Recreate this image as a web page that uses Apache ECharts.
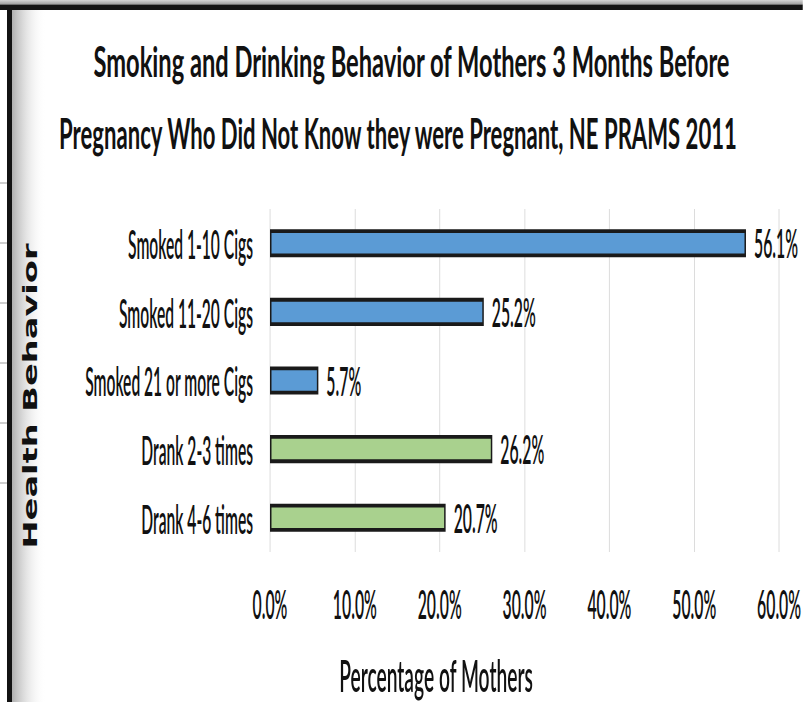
<!DOCTYPE html>
<html><head><meta charset="utf-8">
<script src="https://cdn.jsdelivr.net/npm/echarts@6/dist/echarts.min.js"></script>
<style>
html,body{margin:0;padding:0;overflow:hidden;background:#fff;}
#wrap{width:803px;height:702px;overflow:hidden;position:relative;background:#fff;}
#chart{position:absolute;left:0;top:0;transform-origin:0 0;}
</style></head><body>
<div id="wrap"><div id="chart"></div></div>
<script>
// ---- data ----
const titleLines = ['Smoking and Drinking Behavior of Mothers 3 Months Before',
                    'Pregnancy Who Did Not Know they were Pregnant, NE PRAMS 2011'];
const categories = ['Smoked 1-10 Cigs', 'Smoked 11-20 Cigs', 'Smoked 21 or more Cigs', 'Drank 2-3 times', 'Drank 4-6 times'];
const values = [56.1, 25.2, 5.7, 26.2, 20.7];
const barGroups = ['smoke', 'smoke', 'smoke', 'drink', 'drink'];
const xTickValues = [0, 10, 20, 30, 40, 50, 60];
const xAxisName = 'Percentage of Mothers';
const yAxisName = 'Health Behavior';

// ---- styling ----
const groupColors = { smoke: '#5B9BD5', drink: '#A9D18E' };
const SX = 0.65, SY = 1.66;           // picture is stretched tall/narrow
const CW = 803 / SX, CH = 702 / SY;
const cx = v => v / SX, cy = v => v / SY;
const el = document.getElementById('chart');
el.style.width = CW + 'px';
el.style.height = CH + 'px';
el.style.transform = 'scale(' + SX + ',' + SY + ')';

const mctx = document.createElement('canvas').getContext('2d');
function tw(text, font) { mctx.font = font; return mctx.measureText(text).width; }
const LATO = 'Lato';
const W = 600;
const LATO_CAP = 0.7165, DJ_CAP = 0.729;
function fitSize(text, targetPx, family, weight) {
  const w = tw(text, (weight || 'normal') + ' 100px ' + family);
  return cx(targetPx) / w * 100;
}
const catFs = fitSize('Smoked 1-10 Cigs', 125, LATO, W);
const tickFs = fitSize('10.0%', 44, LATO, W);
const valFs = fitSize('56.1%', 44, LATO, W);

function hText(text, centerX, capCenterY, capPx, widthPx, family, weight, capRatio) {
  const fs = cy(capPx) / capRatio;
  const w = tw(text, weight + ' ' + fs + 'px ' + family);
  return {
    type: 'text', x: cx(centerX), y: cy(capCenterY), scaleX: cx(widthPx) / w, z: 10,
    style: { text: text, x: 0, y: 0, fontSize: fs, fontFamily: family, fontWeight: weight,
      fill: '#111', align: 'center', verticalAlign: 'middle', textAlign: 'center', textVerticalAlign: 'middle' }
  };
}
function vText(text, centerX, centerY, capPx, lenPx, family, weight, capRatio) {
  const fs = cx(capPx) / capRatio;
  const w = tw(text, weight + ' ' + fs + 'px ' + family);
  return {
    type: 'text', x: cx(centerX), y: cy(centerY), rotation: Math.PI / 2, scaleX: cy(lenPx) / w, z: 10,
    style: { text: text, x: 0, y: 0, fontSize: fs, fontFamily: family, fontWeight: weight,
      fill: '#111', align: 'center', verticalAlign: 'middle', textAlign: 'center', textVerticalAlign: 'middle' }
  };
}

const deco = [
  { type: 'rect', z: 1, shape: { x: 0, y: 0, width: CW, height: cy(4.5) },
    style: { fill: new echarts.graphic.LinearGradient(0, 0, 0, 1, [{ offset: 0, color: '#d4d4d4' }, { offset: 1, color: '#9a9a9a' }]) } },
  { type: 'rect', z: 1, shape: { x: 0, y: cy(4.5), width: CW, height: cy(5.5) }, style: { fill: '#121212' } },
  { type: 'rect', z: 1, shape: { x: cx(12), y: cy(10), width: cx(34), height: CH },
    style: { fill: new echarts.graphic.LinearGradient(0, 0, 1, 0, [{ offset: 0, color: 'rgba(170,170,170,0.95)' }, { offset: 1, color: 'rgba(255,255,255,0)' }]) } },
  { type: 'rect', z: 2, shape: { x: cx(7), y: cy(10), width: cx(5), height: CH }, style: { fill: '#121212' } }
];
[183, 243, 303, 363, 423, 483].forEach(function (yy) {
  deco.push({ type: 'line', z: 2, shape: { x1: 0, y1: cy(yy), x2: cx(7), y2: cy(yy) }, style: { stroke: '#c4c4c4', lineWidth: 1 } });
});

const chart = echarts.init(el, null, { renderer: 'svg', width: CW, height: CH });
chart.setOption({
  animation: false,
  backgroundColor: '#ffffff',
  grid: { left: cx(270), right: cx(803 - 782), top: cy(209), bottom: cy(702 - 552), containLabel: false },
  xAxis: {
    type: 'value', min: xTickValues[0], max: xTickValues[xTickValues.length - 1], interval: xTickValues[1] - xTickValues[0],
    axisLine: { show: false }, axisTick: { show: false },
    splitLine: { show: true, lineStyle: { color: '#d9d9d9', width: 1.4 } },
    axisLabel: { formatter: function (v) { return v.toFixed(1) + '%'; }, fontFamily: LATO, fontWeight: W, fontSize: tickFs, color: '#111',
      margin: cy(606 - 552) - tickFs * 0.55 }
  },
  yAxis: {
    type: 'category', data: categories, inverse: true,
    axisLine: { show: false }, axisTick: { show: false }, splitLine: { show: false },
    axisLabel: { fontFamily: LATO, fontWeight: W, fontSize: catFs, color: '#111', margin: cx(17) }
  },
  series: [{
    type: 'bar', barWidth: '41%',
    data: values.map(function (v, i) { return { value: v, itemStyle: { color: groupColors[barGroups[i]] } }; }),
    itemStyle: { borderColor: '#1a1a1a', borderWidth: 2.3 },
    label: { show: true, position: 'right', distance: cx(8),
      formatter: function (p) { return p.value.toFixed(1) + '%'; },
      fontFamily: LATO, fontWeight: W, fontSize: valFs, color: '#111' }
  }],
  graphic: deco.concat([
    hText(titleLines[0], 411.5, 60, 30, 637, LATO, 'bold', LATO_CAP),
    hText(titleLines[1], 398, 132.5, 30, 680, LATO, 'bold', LATO_CAP),
    hText(xAxisName, 436, 675, 31, 194, LATO, W, LATO_CAP),
    vText(yAxisName, 30, 396, 14, 305, 'DejaVu Sans', 'bold', DJ_CAP)
  ])
});
</script>
</body></html>
